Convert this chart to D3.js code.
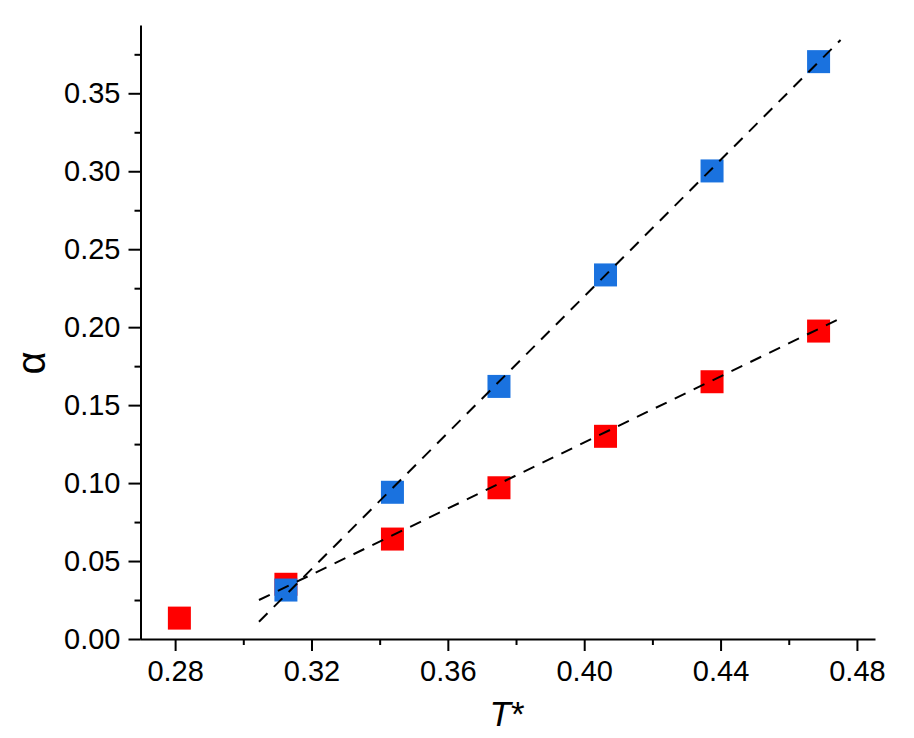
<!DOCTYPE html>
<html>
<head>
<meta charset="utf-8">
<script src="https://cdn.jsdelivr.net/npm/d3@7"></script>
<style>
  html, body { margin: 0; padding: 0; background: #fff; }
  svg { display: block; }
  text { font-family: "Liberation Sans", Arial, Helvetica, sans-serif; }
</style>
</head>
<body>
<svg id="chart" width="914" height="738"></svg>
<script>
// ---- data ----
const temps = [0.28125, 0.3125, 0.34375, 0.375, 0.40625, 0.4375, 0.46875];
const redAlpha = [0.0134, 0.0351, 0.0641, 0.0970, 0.1300, 0.1650, 0.1975];
const blueT = [0.3125, 0.34375, 0.375, 0.40625, 0.4375, 0.46875];
const blueAlpha = [0.0314, 0.0941, 0.1620, 0.2335, 0.3002, 0.3703];
const fitT = [0.3046, 0.4752];
const redFit = [0.0250, 0.2057];
const blueFit = [0.0111, 0.3842];
const xMajor = [0.28, 0.32, 0.36, 0.40, 0.44, 0.48];
const xMinor = [0.30, 0.34, 0.38, 0.42, 0.46];
const yMajor = [0.00, 0.05, 0.10, 0.15, 0.20, 0.25, 0.30, 0.35];
const yMinor = [0.025, 0.075, 0.125, 0.175, 0.225, 0.275, 0.325, 0.375];

const svg = d3.select("#chart");
const x = d3.scaleLinear().domain([0.2697, 0.4853]).range([140, 875]);
const y = d3.scaleLinear().domain([0, 0.3938]).range([639, 25]);

const fmt2 = d3.format(".2f");

// x axis
const gx = svg.append("g").attr("transform", "translate(0,639)");
gx.call(d3.axisBottom(x).tickValues(xMajor).tickFormat(fmt2).tickSize(12).tickSizeOuter(0).tickPadding(9));
const gxm = svg.append("g").attr("transform", "translate(0,639)");
gxm.call(d3.axisBottom(x).tickValues(xMinor).tickFormat("").tickSize(6).tickSizeOuter(0));
gxm.select(".domain").remove();

// y axis
const gy = svg.append("g").attr("transform", "translate(140.5,0)");
gy.call(d3.axisLeft(y).tickValues(yMajor).tickFormat(fmt2).tickSize(12).tickSizeOuter(0).tickPadding(8));
const gym = svg.append("g").attr("transform", "translate(140.5,0)");
gym.call(d3.axisLeft(y).tickValues(yMinor).tickFormat("").tickSize(6).tickSizeOuter(0));
gym.select(".domain").remove();

svg.selectAll(".domain").attr("stroke", "#000").attr("stroke-width", 2);
svg.selectAll(".tick line").attr("stroke", "#000").attr("stroke-width", 2);
svg.selectAll(".tick text").attr("font-size", 29).attr("fill", "#000")
   .attr("font-family", "'Liberation Sans', Arial, sans-serif");

// markers
const S = 23;
svg.append("g").selectAll("rect").data(temps.map((t, i) => [t, redAlpha[i]]))
  .join("rect")
  .attr("x", d => x(d[0]) - S / 2).attr("y", d => y(d[1]) - S / 2)
  .attr("width", S).attr("height", S).attr("fill", "#ff0000");
svg.append("g").selectAll("rect").data(blueT.map((t, i) => [t, blueAlpha[i]]))
  .join("rect")
  .attr("x", d => x(d[0]) - S / 2).attr("y", d => y(d[1]) - S / 2)
  .attr("width", S).attr("height", S).attr("fill", "#1a72df");

// fit lines
const line = d3.line().x(d => x(d[0])).y(d => y(d[1]));
[redFit, blueFit].forEach(f => {
  svg.append("path")
    .attr("d", line(fitT.map((t, i) => [t, f[i]])))
    .attr("fill", "none").attr("stroke", "#000").attr("stroke-width", 2)
    .attr("stroke-dasharray", "12,9");
});

// axis titles
const xt = svg.append("text").attr("x", 507).attr("y", 726)
  .attr("text-anchor", "middle").attr("font-size", 35).attr("fill", "#000");
xt.append("tspan").attr("font-style", "italic").text("T");
xt.append("tspan").text("*");

svg.append("text").attr("transform", "translate(45,363) rotate(-90)")
  .attr("text-anchor", "middle").attr("font-size", 40).attr("fill", "#000")
  .text("α");
</script>
</body>
</html>
